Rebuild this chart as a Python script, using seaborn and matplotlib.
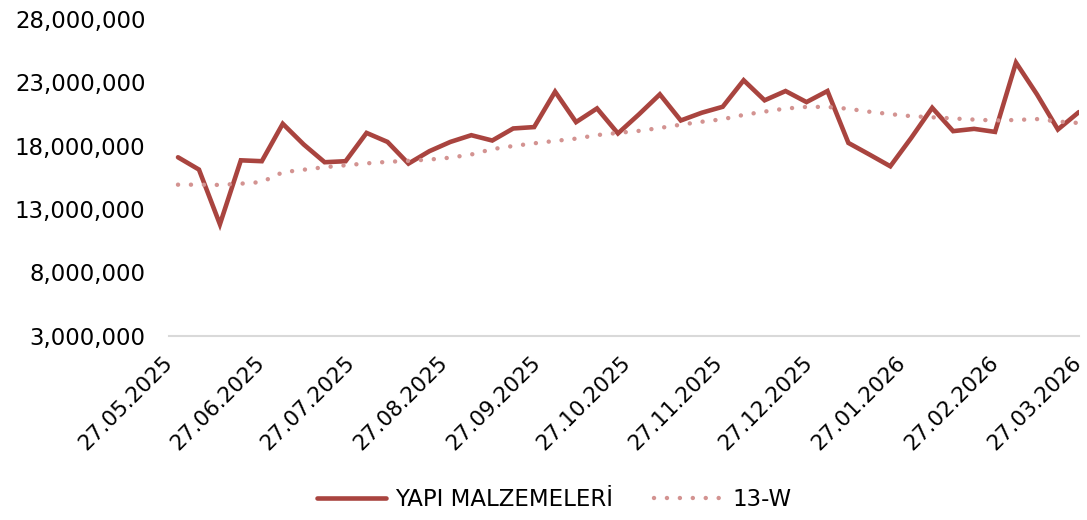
"""Weekly YAPI MALZEMELERİ series with its 13-week average."""

import matplotlib.dates as mdates
import matplotlib.pyplot as plt
import matplotlib.ticker as mticker
import pandas as pd
import seaborn as sns

# weekly dates (Fridays)
weeks = pd.date_range("2025-05-30", "2026-03-27", freq="7D")

# values in millions
yapi = [
    17.08, 16.11, 11.80, 16.84, 16.77, 19.72, 18.09, 16.69, 16.77, 19.00,
    18.29, 16.58, 17.56, 18.29, 18.82, 18.40, 19.35, 19.46, 22.25, 19.85,
    20.93, 18.96, 20.46, 22.04, 19.98, 20.59, 21.06, 23.15, 21.57, 22.30,
    21.43, 22.30, 18.21, 17.30, 16.37, 18.61, 20.98, 19.14, 19.32, 19.08,
    24.54, 22.04, 19.27, 20.64,
]
ma13 = [
    14.92, 14.92, 14.90, 15.00, 15.13, 15.90, 16.10, 16.30, 16.45, 16.60,
    16.72, 16.80, 16.90, 17.05, 17.30, 17.72, 17.97, 18.18, 18.37, 18.55,
    18.83, 19.00, 19.16, 19.39, 19.65, 19.88, 20.08, 20.42, 20.68, 20.92,
    21.05, 21.05, 20.90, 20.67, 20.48, 20.32, 20.23, 20.14, 20.05, 19.98,
    20.02, 20.09, 19.90, 19.78,
]

y_ticks = [3_000_000, 8_000_000, 13_000_000, 18_000_000, 23_000_000, 28_000_000]

df = pd.DataFrame(
    {
        "date": weeks,
        "YAPI MALZEMELERİ": [v * 1e6 for v in yapi],
        "13-W": [v * 1e6 for v in ma13],
    }
)

sns.set_style("white")
plt.rcParams["font.family"] = ["DejaVu Sans"]
plt.rcParams["text.color"] = "black"
plt.rcParams["xtick.color"] = "black"
plt.rcParams["ytick.color"] = "black"

fig = plt.figure(figsize=(10.87, 5.2), dpi=100)
ax = fig.add_axes([0.1555, 0.354, 0.837, 0.61])

sns.lineplot(
    data=df, x="date", y="YAPI MALZEMELERİ", ax=ax,
    color="#A9443F", linewidth=3.3, solid_joinstyle="miter",
    label="YAPI MALZEMELERİ",
)
sns.lineplot(
    data=df, x="date", y="13-W", ax=ax,
    color="#D39391", linewidth=3.2, linestyle=(0, (0.01, 2.9)),
    dash_capstyle="round", label="13-W",
)

ax.set_xlim(pd.Timestamp("2025-05-27"), pd.Timestamp("2026-03-27"))
ax.set_ylim(3_000_000, 28_000_000)
ax.set_yticks(y_ticks)
ax.yaxis.set_major_formatter(mticker.FuncFormatter(lambda v, _: f"{v:,.0f}"))

ax.xaxis.set_major_locator(mdates.MonthLocator(bymonthday=27))
ax.xaxis.set_major_formatter(mdates.DateFormatter("%d.%m.%Y"))
plt.setp(
    ax.get_xticklabels(), rotation=45, ha="right", va="center",
    rotation_mode="anchor", fontsize=15.5,
)
plt.setp(ax.get_yticklabels(), fontsize=16.5)
ax.tick_params(axis="y", length=0, pad=17)
ax.tick_params(axis="x", length=0, pad=17)

ax.set_xlabel("")
ax.set_ylabel("")
for side in ["top", "right", "left"]:
    ax.spines[side].set_visible(False)
ax.spines["bottom"].set_color("#D9D9D9")
ax.spines["bottom"].set_linewidth(1.5)

ax.get_legend().remove()
handles, labels = ax.get_legend_handles_labels()
fig.legend(
    handles, labels, loc="center", bbox_to_anchor=(0.51, 0.04), ncol=2,
    frameon=False, fontsize=16.5, handlelength=3.0, columnspacing=1.8,
    handletextpad=0.4,
)

fig.savefig("out.png", dpi=100)
